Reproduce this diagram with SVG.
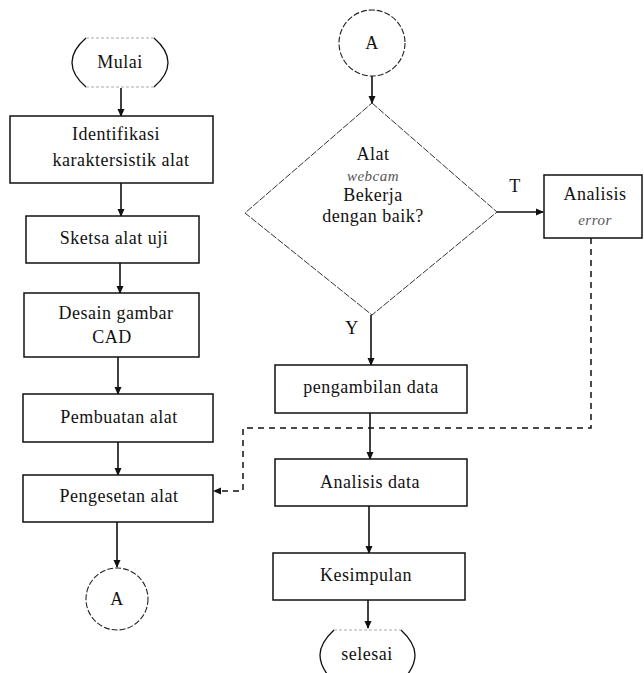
<svg xmlns="http://www.w3.org/2000/svg" width="644" height="673" viewBox="0 0 644 673">
<defs>
<marker id="ah" markerWidth="8" markerHeight="8" refX="7" refY="4" orient="auto" markerUnits="userSpaceOnUse">
<path d="M0,0.5 L8,4 L0,7.5 Z" fill="#111"/>
</marker>
<style>
text{font-family:"Liberation Serif","Times New Roman",serif;font-size:18px;letter-spacing:0.5px;fill:#111;text-anchor:middle}
.it{font-style:italic;font-size:15px;fill:#555}
.box{fill:#fff;stroke:#111;stroke-width:1.5}
.term{fill:none;stroke:#111;stroke-width:1.3}
.termf{fill:none;stroke:#aaa;stroke-width:1;stroke-dasharray:3 2}
.circ{fill:#fff;stroke:#222;stroke-width:1.1;stroke-dasharray:6 2}
.dia{fill:#fff;stroke:#333;stroke-width:1;stroke-dasharray:7 1.5}
.ln{fill:none;stroke:#111;stroke-width:1.6}
.dash{fill:none;stroke:#111;stroke-width:1.5;stroke-dasharray:6 5}
</style>
</defs>
<rect width="644" height="673" fill="#fff"/>

<g id="connectors">
<line class="ln" x1="121" y1="88" x2="121" y2="116" marker-end="url(#ah)"/>
<line class="ln" x1="121" y1="183" x2="121" y2="216" marker-end="url(#ah)"/>
<line class="ln" x1="120" y1="263" x2="120" y2="293" marker-end="url(#ah)"/>
<line class="ln" x1="118" y1="357" x2="118" y2="394" marker-end="url(#ah)"/>
<line class="ln" x1="118" y1="442" x2="118" y2="475" marker-end="url(#ah)"/>
<line class="ln" x1="117" y1="522" x2="117" y2="567" marker-end="url(#ah)"/>
<line class="ln" x1="372" y1="76" x2="372" y2="103" marker-end="url(#ah)"/>
<line class="ln" x1="497" y1="212" x2="543" y2="212" marker-end="url(#ah)"/>
<line class="ln" x1="371" y1="315" x2="371" y2="365" marker-end="url(#ah)"/>
<line class="ln" x1="370" y1="413" x2="370" y2="459" marker-end="url(#ah)"/>
<line class="ln" x1="369" y1="506" x2="369" y2="553" marker-end="url(#ah)"/>
<line class="ln" x1="368" y1="600" x2="368" y2="628" marker-end="url(#ah)"/>
<polyline class="dash" points="591,238 591,428 243,428 243,491 215,491"/>
<path d="M221,487.5 L213,491 L221,494.5 Z" fill="#111"/>
<text x="515" y="192">T</text>
<text x="352" y="334">Y</text>
</g>

<g id="mulai">
<path class="term" d="M86,38 Q72,50 72,62.5 Q72,75 86,87"/>
<path class="term" d="M154,38 Q168,50 168,62.5 Q168,75 154,87"/>
<line class="termf" x1="86" y1="38" x2="154" y2="38"/>
<line class="termf" x1="86" y1="87" x2="154" y2="87"/>
<text x="120" y="68">Mulai</text>
</g>

<g id="identifikasi">
<rect class="box" x="10" y="116" width="203" height="67"/>
<text x="116" y="140">Identifikasi</text>
<text x="121" y="166">karaktersistik alat</text>
</g>

<g id="sketsa">
<rect class="box" x="26" y="216" width="173" height="47"/>
<text x="114" y="244">Sketsa alat uji</text>
</g>

<g id="desain">
<rect class="box" x="24" y="293" width="175" height="64"/>
<text x="116" y="319">Desain gambar</text>
<text x="112" y="343">CAD</text>
</g>

<g id="pembuatan">
<rect class="box" x="23" y="394" width="190" height="48"/>
<text x="119" y="423">Pembuatan alat</text>
</g>

<g id="pengesetan">
<rect class="box" x="23" y="475" width="190" height="47"/>
<text x="119" y="502">Pengesetan alat</text>
</g>

<g id="a-bottom">
<circle class="circ" cx="117" cy="599" r="31"/>
<text x="117" y="605">A</text>
</g>

<g id="a-top">
<circle class="circ" cx="372" cy="43" r="33"/>
<text x="372" y="49">A</text>
</g>

<g id="decision">
<polygon class="dia" points="372,103 497,212 372,315 245,213"/>
<text x="373" y="160">Alat</text>
<text class="it" x="373" y="181">webcam</text>
<text x="373" y="201">Bekerja</text>
<text x="373" y="222">dengan baik?</text>
</g>

<g id="analisis-error">
<rect class="box" x="544" y="175" width="98" height="63"/>
<text x="595" y="200">Analisis</text>
<text class="it" x="595" y="225">error</text>
</g>

<g id="pengambilan">
<rect class="box" x="275" y="365" width="192" height="48"/>
<text x="371" y="393">pengambilan data</text>
</g>

<g id="analisis-data">
<rect class="box" x="275" y="459" width="192" height="47"/>
<text x="370" y="488">Analisis data</text>
</g>

<g id="kesimpulan">
<rect class="box" x="273" y="553" width="192" height="47"/>
<text x="366" y="581">Kesimpulan</text>
</g>

<g id="selesai">
<path class="term" d="M334,630 Q320,643 320,655 Q320,667 332,680"/>
<path class="term" d="M401,630 Q415,643 415,655 Q415,667 403,680"/>
<line class="termf" x1="334" y1="630" x2="401" y2="630"/>
<text x="367" y="660">selesai</text>
</g>
</svg>
